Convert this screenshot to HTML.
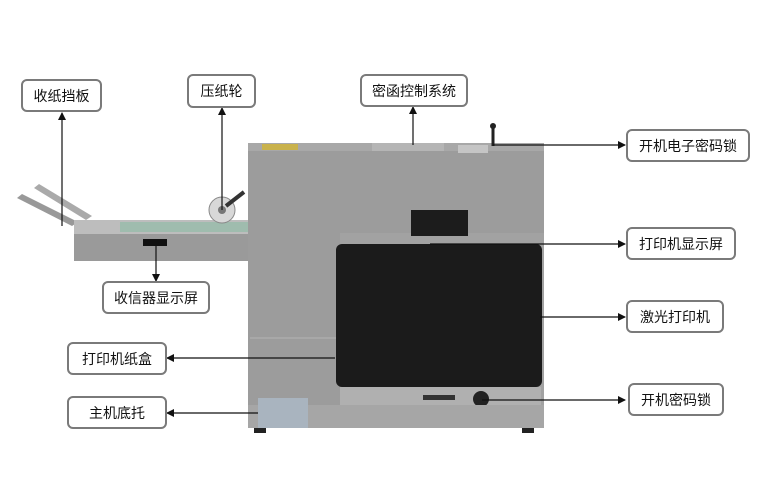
<!DOCTYPE html>
<html><head><meta charset="utf-8"><style>
html,body{margin:0;padding:0;background:#fff;}
body{width:768px;height:488px;position:relative;overflow:hidden;font-family:"Liberation Sans","Noto Sans CJK SC",sans-serif;}
.b{position:absolute;border:2px solid #7a7a7a;border-radius:6px;background:#fff;font-size:14px;color:#111;display:flex;align-items:center;justify-content:center;box-sizing:border-box;white-space:nowrap;}
svg{position:absolute;left:0;top:0;}
</style></head><body>
<svg width="768" height="488" viewBox="0 0 768 488">
<defs><marker id="a" markerWidth="8" markerHeight="8" refX="7" refY="4" orient="auto" markerUnits="userSpaceOnUse"><path d="M0,0 L8,4 L0,8 z" fill="#111"/></marker></defs>
<!-- tray arms -->
<polygon points="17,198 22,194 78,222 72,226" fill="#999"/>
<polygon points="34,188 39,184 92,216 86,220" fill="#aaa"/>
<!-- tray -->
<rect x="74" y="220" width="176" height="14" fill="#bdbdbd"/>
<rect x="120" y="222" width="130" height="10" fill="#9fbcae"/>
<rect x="74" y="234" width="176" height="27" fill="#9a9a9a"/>
<rect x="143" y="239" width="24" height="7" fill="#111"/>
<!-- wheel -->
<circle cx="222" cy="210" r="13" fill="#d8d8d8" stroke="#888"/>
<circle cx="222" cy="210" r="4" fill="#777"/>
<line x1="226" y1="206" x2="244" y2="192" stroke="#333" stroke-width="4"/>
<!-- body -->
<rect x="248" y="143" width="296" height="90" fill="#9c9c9c"/>
<rect x="248" y="143" width="296" height="8" fill="#a8a8a8"/>
<rect x="262" y="144" width="36" height="6" fill="#c9b24c"/>
<rect x="372" y="143" width="72" height="8" fill="#b5b5b5"/>
<rect x="458" y="145" width="30" height="8" fill="#c5c5c5"/>
<line x1="493" y1="127" x2="493" y2="146" stroke="#222" stroke-width="3"/>
<circle cx="493" cy="126" r="3" fill="#222"/>
<rect x="248" y="233" width="92" height="195" fill="#9c9c9c"/>
<line x1="250" y1="338" x2="338" y2="338" stroke="#b4b4b4"/>
<rect x="340" y="233" width="204" height="195" fill="#a2a2a2"/>
<rect x="411" y="210" width="57" height="26" fill="#1c1c1c"/>
<rect x="336" y="244" width="206" height="143" rx="6" fill="#1b1b1b"/>
<rect x="340" y="387" width="201" height="18" fill="#b0b0b0"/>
<rect x="423" y="395" width="32" height="5" fill="#333"/>
<circle cx="481" cy="399" r="8" fill="#222"/>
<rect x="248" y="405" width="296" height="23" fill="#a6a6a6"/>
<rect x="258" y="398" width="50" height="30" fill="#a9b4bf"/>
<rect x="254" y="428" width="12" height="5" fill="#222"/>
<rect x="522" y="428" width="12" height="5" fill="#222"/>
<!-- arrows -->
<g stroke="#111" stroke-width="1.2" fill="none" marker-end="url(#a)">
<line x1="62" y1="226" x2="62" y2="113"/>
<line x1="222" y1="210" x2="222" y2="108"/>
<line x1="413" y1="145" x2="413" y2="107"/>
<line x1="493" y1="145" x2="625" y2="145"/>
<line x1="430" y1="244" x2="625" y2="244"/>
<line x1="540" y1="317" x2="625" y2="317"/>
<line x1="482" y1="400" x2="625" y2="400"/>
<line x1="156" y1="246" x2="156" y2="281"/>
<line x1="335" y1="358" x2="167" y2="358"/>
<line x1="258" y1="413" x2="167" y2="413"/>
</g>
</svg>
<div class="b" style="left:21px;top:79px;width:81px;height:33px;">收纸挡板</div>
<div class="b" style="left:187px;top:74px;width:69px;height:34px;">压纸轮</div>
<div class="b" style="left:360px;top:74px;width:108px;height:33px;">密函控制系统</div>
<div class="b" style="left:626px;top:129px;width:124px;height:33px;">开机电子密码锁</div>
<div class="b" style="left:626px;top:227px;width:110px;height:33px;">打印机显示屏</div>
<div class="b" style="left:626px;top:300px;width:98px;height:33px;">激光打印机</div>
<div class="b" style="left:628px;top:383px;width:96px;height:33px;">开机密码锁</div>
<div class="b" style="left:102px;top:281px;width:108px;height:33px;">收信器显示屏</div>
<div class="b" style="left:67px;top:342px;width:100px;height:33px;">打印机纸盒</div>
<div class="b" style="left:67px;top:396px;width:100px;height:33px;">主机底托</div>
</body></html>
